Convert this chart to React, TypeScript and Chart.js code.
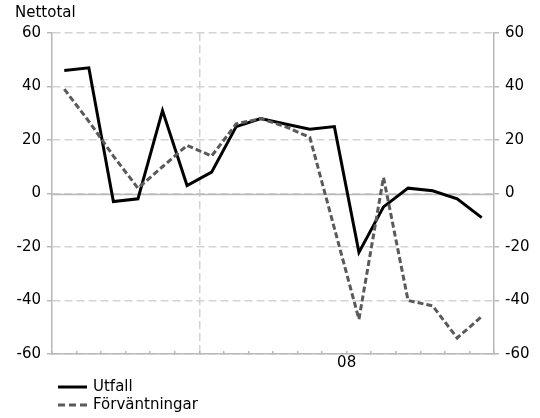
import React, { useEffect, useRef } from 'react';
import { Chart, registerables } from 'chart.js';

Chart.register(...registerables);

// Period index (18 periods); the year label "08" sits at the boundary after period 12
const periods = ['1', '2', '3', '4', '5', '6', '7', '8', '9', '10', '11', '12', '13', '14', '15', '16', '17', '18'];
const utfall = [46, 47, -3, -2, 31, 3, 8, 25, 28, 26, 24, 25, -22, -5, 2, 1, -2, -9];
const forvantningar = [39, 27, 14, 2, 10, 18, 14, 26, 28, 25, 21, -13, -47, 6, -40, -42, -54, -46];
const yearLabels: Record<number, string> = { 12: '08' };
const verticalGridAt = [6];
const yMin = -60;
const yMax = 60;
const yStep = 20;

const FONT = 'DejaVu Sans';
const AXIS_GRAY = '#b8b8b8';
const GRID_GRAY = '#d3d3d3';

const zeroLine = {
  id: 'zeroLine',
  beforeDatasetsDraw(chart: any) {
    const { ctx, chartArea, scales } = chart;
    const y = Math.round(scales.y.getPixelForValue(0)) + 0.5;
    ctx.save();
    ctx.strokeStyle = AXIS_GRAY;
    ctx.lineWidth = 1.5;
    ctx.beginPath();
    ctx.moveTo(chartArea.left, y);
    ctx.lineTo(chartArea.right, y);
    ctx.stroke();
    ctx.restore();
  },
};

export default function App() {
  const ref = useRef<HTMLCanvasElement>(null);

  useEffect(() => {
    if (!ref.current) return;
    Chart.defaults.font.family = FONT;
    Chart.defaults.font.size = 15;
    Chart.defaults.color = '#000';
    const chart = new Chart(ref.current, {
      type: 'line',
      data: {
        datasets: [
          {
            label: 'Utfall',
            data: utfall.map((v, i) => ({ x: i + 0.5, y: v })),
            borderColor: '#000',
            borderWidth: 3,
            pointRadius: 0,
            tension: 0,
            order: 1,
          },
          {
            label: 'Förväntningar',
            data: forvantningar.map((v, i) => ({ x: i + 0.5, y: v })),
            borderColor: '#5a5a5a',
            borderWidth: 3,
            borderDash: [6, 3],
            pointRadius: 0,
            tension: 0,
            order: 0,
          },
        ],
      },
      options: {
        animation: false,
        responsive: false,
        layout: { padding: { left: 15, right: 0, top: 0, bottom: 44 } },
        plugins: {
          legend: { display: false },
          tooltip: { enabled: false },
          title: {
            display: true,
            text: 'Nettotal',
            align: 'start',
            color: '#000',
            font: { family: FONT, size: 15, weight: 'normal' },
            padding: { top: 4, bottom: 11 },
          },
        },
        scales: {
          x: {
            type: 'linear',
            min: 0,
            max: periods.length,
            afterBuildTicks: (scale: any) => {
              scale.ticks = Array.from({ length: periods.length + 1 }, (_, i) => ({ value: i }));
            },
            afterFit: (scale: any) => {
              scale.height = 20;
            },
            ticks: {
              autoSkip: false,
              maxRotation: 0,
              padding: 3,
              callback: (v: any) => yearLabels[v] ?? '',
            },
            grid: {
              color: (ctx: any) =>
                ctx.tick && verticalGridAt.includes(ctx.tick.value) ? GRID_GRAY : 'rgba(0,0,0,0)',
              tickColor: AXIS_GRAY,
              tickLength: -3,
              lineWidth: 1.5,
            },
            border: { color: AXIS_GRAY, width: 1.5, dash: [8, 4] },
          },
          y: {
            position: 'left',
            min: yMin,
            max: yMax,
            afterFit: (scale: any) => {
              scale.width = 37;
            },
            ticks: { stepSize: yStep, padding: 6, callback: (v: any) => String(v) },
            grid: { color: GRID_GRAY, lineWidth: 1.5, tickColor: AXIS_GRAY, tickLength: 5 },
            border: { color: AXIS_GRAY, width: 1.5, dash: [8, 4] },
          },
          y2: {
            position: 'right',
            min: yMin,
            max: yMax,
            afterFit: (scale: any) => {
              scale.width = 46;
            },
            ticks: { stepSize: yStep, padding: 6, callback: (v: any) => String(v) },
            grid: { drawOnChartArea: false, tickColor: AXIS_GRAY, tickLength: 5, lineWidth: 1.5 },
            border: { color: AXIS_GRAY, width: 1.5 },
          },
        },
      },
      plugins: [zeroLine],
    } as any);
    return () => chart.destroy();
  }, []);

  const legendText: React.CSSProperties = {
    position: 'absolute',
    left: 93,
    fontFamily: FONT,
    fontSize: 15,
    lineHeight: '18px',
    color: '#000',
    whiteSpace: 'nowrap',
  };

  return (
    <div style={{ position: 'fixed', left: 0, top: 0, width: 540, height: 418, background: '#fff' }}>
      <canvas ref={ref} width={540} height={418} style={{ display: 'block' }} />
      <svg style={{ position: 'absolute', left: 0, top: 0 }} width={540} height={418}>
        <line x1={58} y1={387} x2={87} y2={387} stroke="#000" strokeWidth={3} />
        <line x1={58} y1={405} x2={87} y2={405} stroke="#5a5a5a" strokeWidth={3} strokeDasharray="7 4" />
      </svg>
      <div style={{ ...legendText, top: 377 }}>Utfall</div>
      <div style={{ ...legendText, top: 395 }}>Förväntningar</div>
    </div>
  );
}
